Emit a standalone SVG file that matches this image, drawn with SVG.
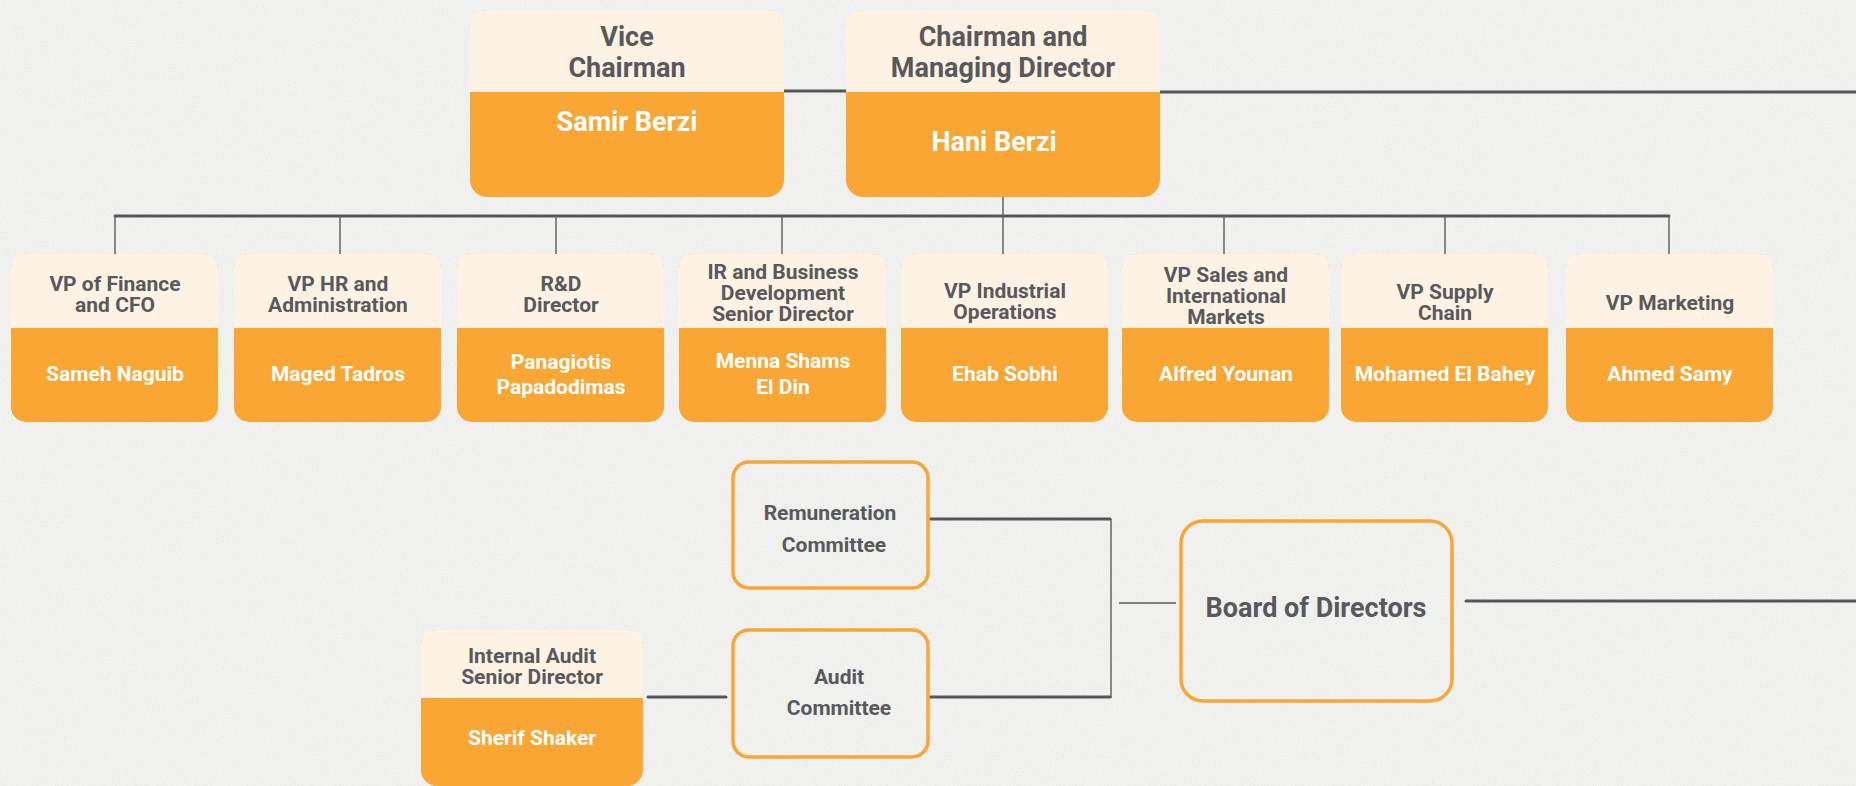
<svg xmlns="http://www.w3.org/2000/svg" xmlns:xlink="http://www.w3.org/1999/xlink" width="1856" height="786" viewBox="0 0 1856 786">
  <style>
    .title { font-family: Roboto, "Liberation Sans", sans-serif; font-weight: 700; fill: #58595b; text-anchor: middle; }
    .name { font-family: Roboto, "Liberation Sans", sans-serif; font-weight: 700; fill: #ffffff; text-anchor: middle; }
    .big { font-size: 27px; }
    .small { font-size: 21px; }
    .sub { font-size: 21px; }
    .cream { fill: #fef2e5; }
    .orange { fill: #f9a634; }
    .frame { fill: none; stroke: #f9a634; stroke-width: 3.5; }
    .bar { fill: none; stroke: #555657; stroke-width: 3; stroke-linecap: round; }
    .drop { fill: none; stroke: #5a5b5c; stroke-width: 1.4; }
  </style>
  <defs>
    <!-- faint paper grain -->
    <filter id="grain" x="0" y="0" width="100%" height="100%">
      <feTurbulence type="fractalNoise" baseFrequency="0.9" numOctaves="2" seed="7" result="n"/>
      <feColorMatrix in="n" type="matrix" values="0 0 0 0 0.55  0 0 0 0 0.55  0 0 0 0 0.55  0 0 0 -1.6 0.95"/>
    </filter>
    <!-- VP card: 207 x 168, cream header 74 tall -->
    <g id="vpCard">
      <rect class="orange" x="0" y="0" width="207" height="168" rx="15"/>
      <path class="cream" d="M0,74 V15 Q0,0 15,0 H192 Q207,0 207,15 V74 Z"/>
    </g>
    <!-- top executive card: 314 x 187, cream header 82 tall -->
    <g id="execCard">
      <rect class="orange" x="0" y="0" width="314" height="187" rx="17"/>
      <path class="cream" d="M0,82 V17 Q0,0 17,0 H297 Q314,0 314,17 V82 Z"/>
    </g>
  </defs>

  <!-- paper background -->
  <rect x="0" y="0" width="1856" height="786" fill="#f2f2f1"/>
  <rect x="0" y="0" width="1856" height="786" filter="url(#grain)" opacity="0.25"/>

  <!-- connectors -->
  <g id="connectors">
    <!-- executive line across the top -->
    <path class="bar" d="M784,91 H846"/>
    <path class="bar" d="M1160,92 H1856"/>
    <!-- chairman down to the VP bus -->
    <path class="drop" d="M1003,197 V216"/>
    <!-- VP bus -->
    <path class="bar" d="M115,216 H1669"/>
    <path class="drop" d="M115,216 V254"/>
    <path class="drop" d="M340,216 V254"/>
    <path class="drop" d="M556,216 V254"/>
    <path class="drop" d="M782,216 V254"/>
    <path class="drop" d="M1003,216 V254"/>
    <path class="drop" d="M1224,216 V254"/>
    <path class="drop" d="M1445,216 V254"/>
    <path class="drop" d="M1669,216 V254"/>
    <!-- committees to board -->
    <path class="bar" d="M930,519 H1110"/>
    <path class="bar" d="M930,697 H1110"/>
    <path class="drop" d="M1111,519 V698"/>
    <path class="drop" d="M1119,603 H1176"/>
    <path class="bar" d="M1466,601 H1856"/>
    <!-- internal audit to audit committee -->
    <path class="bar" d="M648,697 H726"/>
  </g>

  <!-- executives -->
  <g id="vice-chairman" transform="translate(470,10)">
    <use href="#execCard"/>
    <text class="title big" x="157" y="36">Vice</text>
    <text class="title big" x="157" y="67">Chairman</text>
    <text class="name big" x="157" y="121">Samir Berzi</text>
  </g>
  <g id="chairman-md" transform="translate(846,10)">
    <use href="#execCard"/>
    <text class="title big" x="157" y="36">Chairman and</text>
    <text class="title big" x="157" y="67">Managing Director</text>
    <text class="name big" x="148" y="141">Hani Berzi</text>
  </g>

  <!-- vice presidents and directors -->
  <g id="vp-finance" transform="translate(11,254)">
    <use href="#vpCard"/>
    <text class="title small" x="104" y="37">VP of Finance</text>
    <text class="title small" x="104" y="58">and CFO</text>
    <text class="name small" x="104" y="127">Sameh Naguib</text>
  </g>
  <g id="vp-hr" transform="translate(234,254)">
    <use href="#vpCard"/>
    <text class="title small" x="104" y="37">VP HR and</text>
    <text class="title small" x="104" y="58">Administration</text>
    <text class="name small" x="104" y="127">Maged Tadros</text>
  </g>
  <g id="rd-director" transform="translate(457,254)">
    <use href="#vpCard"/>
    <text class="title small" x="104" y="37">R&amp;D</text>
    <text class="title small" x="104" y="58">Director</text>
    <text class="name small" x="104" y="115">Panagiotis</text>
    <text class="name small" x="104" y="140">Papadodimas</text>
  </g>
  <g id="ir-bd-director" transform="translate(679,254)">
    <use href="#vpCard"/>
    <text class="title small" x="104" y="25">IR and Business</text>
    <text class="title small" x="104" y="46">Development</text>
    <text class="title small" x="104" y="67">Senior Director</text>
    <text class="name small" x="104" y="114">Menna Shams</text>
    <text class="name small" x="104" y="140">El Din</text>
  </g>
  <g id="vp-industrial" transform="translate(901,254)">
    <use href="#vpCard"/>
    <text class="title small" x="104" y="44">VP Industrial</text>
    <text class="title small" x="104" y="65">Operations</text>
    <text class="name small" x="104" y="127">Ehab Sobhi</text>
  </g>
  <g id="vp-sales" transform="translate(1122,254)">
    <use href="#vpCard"/>
    <text class="title small" x="104" y="28">VP Sales and</text>
    <text class="title small" x="104" y="49">International</text>
    <text class="title small" x="104" y="70">Markets</text>
    <text class="name small" x="104" y="127">Alfred Younan</text>
  </g>
  <g id="vp-supply" transform="translate(1341,254)">
    <use href="#vpCard"/>
    <text class="title small" x="104" y="45">VP Supply</text>
    <text class="title small" x="104" y="66">Chain</text>
    <text class="name small" x="104" y="127">Mohamed El Bahey</text>
  </g>
  <g id="vp-marketing" transform="translate(1566,254)">
    <use href="#vpCard"/>
    <text class="title small" x="104" y="56">VP Marketing</text>
    <text class="name small" x="104" y="127">Ahmed Samy</text>
  </g>

  <!-- governance -->
  <g id="remuneration-committee">
    <rect class="frame" x="733" y="462" width="195" height="126" rx="16"/>
    <text class="title sub" x="830" y="520">Remuneration</text>
    <text class="title sub" x="834" y="552">Committee</text>
  </g>
  <g id="audit-committee">
    <rect class="frame" x="733" y="630" width="195" height="127" rx="16"/>
    <text class="title sub" x="839" y="684">Audit</text>
    <text class="title sub" x="839" y="715">Committee</text>
  </g>
  <g id="board-of-directors">
    <rect class="frame" x="1181" y="521" width="271" height="180" rx="22"/>
    <text class="title big" x="1316" y="617">Board of Directors</text>
  </g>
  <g id="internal-audit" transform="translate(421,630)">
    <rect class="orange" x="0" y="0" width="222" height="156" rx="16"/>
    <path class="cream" d="M0,68 V16 Q0,0 16,0 H206 Q222,0 222,16 V68 Z"/>
    <text class="title small" x="111" y="33" font-size="22">Internal Audit</text>
    <text class="title small" x="111" y="54" font-size="22">Senior Director</text>
    <text class="name small" x="111" y="115">Sherif Shaker</text>
  </g>
</svg>
